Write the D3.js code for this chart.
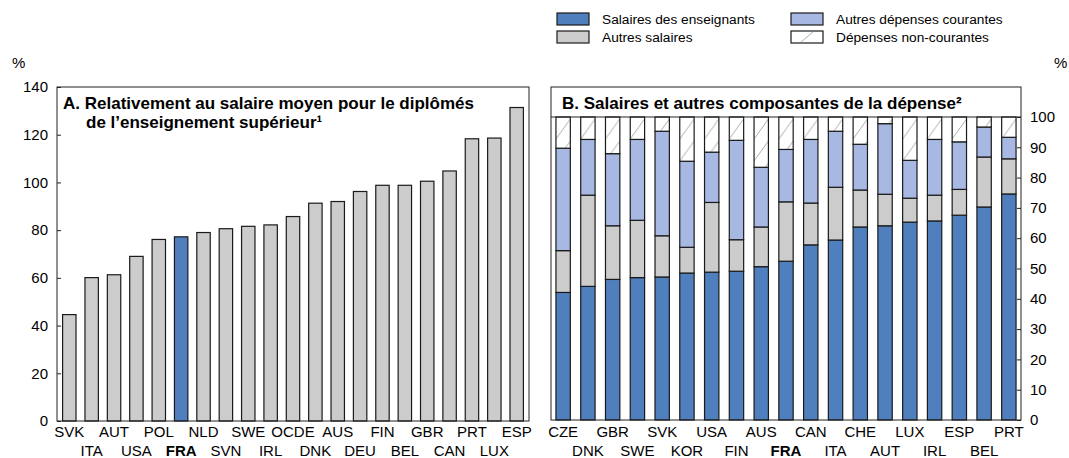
<!DOCTYPE html>
<html>
<head>
<meta charset="utf-8">
<script src="https://cdn.jsdelivr.net/npm/d3@7"></script>
<style>
    body { margin: 0; background: #fff; }
    svg { font-family: "Liberation Sans", Arial, sans-serif; }
</style>
</head>
<body>
<div id="chart"></div>
<script>
// Panel A: relative salary of teachers
const countriesA = ["SVK", "ITA", "AUT", "USA", "POL", "FRA", "NLD", "SVN", "SWE", "IRL", "OCDE",
    "DNK", "AUS", "DEU", "FIN", "BEL", "GBR", "CAN", "PRT", "LUX", "ESP"];
const valuesA = [44.6, 60.1, 61.3, 69.0, 76.1, 77.2, 79.0, 80.6, 81.6, 82.2, 85.7,
    91.3, 92.0, 96.2, 98.8, 98.8, 100.5, 104.8, 118.3, 118.6, 131.4];
const ticksA = [0, 20, 40, 60, 80, 100, 120, 140];

// Panel B: components of spending (shares, %)
const countriesB = ["CZE", "DNK", "GBR", "SWE", "SVK", "KOR", "USA", "FIN", "AUS", "FRA",
    "CAN", "ITA", "CHE", "AUT", "LUX", "IRL", "ESP", "BEL", "PRT"];
const teacherSal = [42.1, 44.1, 46.4, 47.0, 47.2, 48.5, 48.8, 49.1, 50.6, 52.4,
    57.8, 59.4, 63.7, 64.1, 65.3, 65.7, 67.6, 70.3, 74.6];
const otherSal = [13.8, 30.1, 17.7, 18.9, 13.6, 8.5, 23.0, 10.4, 13.1, 19.6,
    13.8, 17.4, 12.2, 10.4, 7.9, 8.5, 8.5, 16.5, 11.6];
const otherCurrent = [33.8, 18.4, 23.8, 26.7, 34.5, 28.4, 16.6, 32.8, 19.7, 17.3,
    21.0, 18.5, 15.1, 23.3, 12.5, 18.4, 15.7, 9.9, 7.1];
const nonCurrent = [10.3, 7.4, 12.1, 7.4, 4.7, 14.6, 11.6, 7.7, 16.6, 10.7,
    7.4, 4.7, 9.0, 2.2, 14.3, 7.4, 8.2, 3.3, 6.7];
const ticksB = [0, 10, 20, 30, 40, 50, 60, 70, 80, 90, 100];

const seriesKeys = ["teach", "other", "current", "noncur"];
const seriesLabels = ["Salaires des enseignants", "Autres salaires", "Autres dépenses courantes", "Dépenses non-courantes"];

(function () {
    const W = 1069, H = 458;
    const colors = {
        teach: "#4f7fbc",
        other: "#cccccc",
        current: "#a7b8e2",
        noncur: "url(#hatch)",
    };
    const stroke = "#1a1a1a";
    const fs = 15;
    const titleFs = 17;
    const rowY = [437, 456];

    const svg = d3.select("#chart").append("svg")
        .attr("width", W).attr("height", H);

    // ---------- Panel A ----------
    const a = { left: 57, right: 529, top: 87, bottom: 421 };
    a.x = d3.scaleBand().domain(countriesA).range([a.left, a.right]).paddingInner(0.4).paddingOuter(0.25);
    a.y = d3.scaleLinear().domain([0, 140]).range([a.bottom, a.top]);

    const gA = svg.append("g");
    gA.selectAll("rect.bar")
        .data(countriesA)
        .join("rect")
        .attr("class", "bar")
        .attr("x", d => a.x(d))
        .attr("width", a.x.bandwidth())
        .attr("y", (d, i) => a.y(valuesA[i]))
        .attr("height", (d, i) => a.y(0) - a.y(valuesA[i]))
        .attr("fill", d => d === "FRA" ? colors.teach : colors.other)
        .attr("stroke", stroke)
        .attr("stroke-width", 1.2);

    gA.append("rect")
        .attr("x", a.left).attr("y", a.top)
        .attr("width", a.right - a.left).attr("height", a.bottom - a.top)
        .attr("fill", "none").attr("stroke", "#222").attr("stroke-width", 1);

    const axisA = gA.append("g")
        .attr("transform", "translate(" + a.left + ",0)")
        .call(d3.axisRight(a.y).tickValues(ticksA).tickSize(4).tickFormat(""));
    axisA.select(".domain").remove();
    axisA.selectAll("line").attr("stroke", "#222");

    gA.selectAll("text.ytick")
        .data(ticksA)
        .join("text")
        .attr("class", "ytick")
        .attr("x", a.left - 9)
        .attr("y", d => a.y(d))
        .attr("dy", "0.35em")
        .attr("text-anchor", "end")
        .attr("font-size", fs)
        .text(d => d);

    gA.selectAll("text.xlab")
        .data(countriesA)
        .join("text")
        .attr("class", "xlab")
        .attr("x", d => a.x(d) + a.x.bandwidth() / 2)
        .attr("y", (d, i) => rowY[i % 2])
        .attr("text-anchor", "middle")
        .attr("font-size", fs)
        .attr("font-weight", d => d === "FRA" ? "bold" : "normal")
        .text(d => d);

    svg.append("text").attr("x", 12).attr("y", 68).attr("font-size", fs).text("%");

    const titleA = gA.append("text")
        .attr("font-size", titleFs).attr("font-weight", "bold");
    titleA.append("tspan").attr("x", 63).attr("y", 109)
        .text("A. Relativement au salaire moyen pour le diplômés");
    titleA.append("tspan").attr("x", 86).attr("y", 128)
        .text("de l’enseignement supérieur¹");

    // ---------- Panel B ----------
    const b = { left: 551, right: 1021, top: 117, bottom: 420, boxTop: 87 };
    b.x = d3.scaleBand().domain(countriesB).range([b.left, b.right]).paddingInner(0.42).paddingOuter(0.2);
    b.y = d3.scaleLinear().domain([0, 100]).range([b.bottom, b.top]);

    const defs = svg.append("defs");
    const hatch = defs.append("pattern")
        .attr("id", "hatch")
        .attr("patternUnits", "userSpaceOnUse")
        .attr("x", b.x(countriesB[0]))
        .attr("y", b.top)
        .attr("width", b.x.step())
        .attr("height", 22);
    hatch.append("rect").attr("width", b.x.step()).attr("height", 22).attr("fill", "#fff");
    hatch.append("line")
        .attr("x1", 0).attr("y1", 22)
        .attr("x2", b.x.bandwidth()).attr("y2", 2)
        .attr("stroke", "#999").attr("stroke-width", 0.8);

    const tableB = countriesB.map((c, i) => ({
        country: c,
        teach: teacherSal[i],
        other: otherSal[i],
        current: otherCurrent[i],
        noncur: nonCurrent[i],
    }));
    const stack = d3.stack().keys(seriesKeys)(tableB);

    const gB = svg.append("g");
    gB.selectAll("g.series")
        .data(stack)
        .join("g")
        .attr("class", "series")
        .attr("fill", s => colors[s.key])
        .selectAll("rect")
        .data(s => s)
        .join("rect")
        .attr("x", d => b.x(d.data.country))
        .attr("width", b.x.bandwidth())
        .attr("y", d => b.y(Math.min(100, d[1])))
        .attr("height", d => b.y(d[0]) - b.y(Math.min(100, d[1])))
        .attr("stroke", stroke)
        .attr("stroke-width", 1.2);

    gB.append("rect")
        .attr("x", b.left).attr("y", b.boxTop)
        .attr("width", b.right - b.left).attr("height", b.bottom - b.boxTop)
        .attr("fill", "none").attr("stroke", "#222").attr("stroke-width", 1);
    gB.append("line")
        .attr("x1", b.left).attr("x2", b.right)
        .attr("y1", b.top).attr("y2", b.top)
        .attr("stroke", "#222");

    const axisB = gB.append("g")
        .attr("transform", "translate(" + b.right + ",0)")
        .call(d3.axisLeft(b.y).tickValues(ticksB).tickSize(4).tickFormat(""));
    axisB.select(".domain").remove();
    axisB.selectAll("line").attr("stroke", "#222");

    gB.selectAll("text.ytick")
        .data(ticksB)
        .join("text")
        .attr("class", "ytick")
        .attr("x", b.right + 9)
        .attr("y", d => b.y(d))
        .attr("dy", "0.35em")
        .attr("font-size", fs)
        .text(d => d);

    gB.selectAll("text.xlab")
        .data(countriesB)
        .join("text")
        .attr("class", "xlab")
        .attr("x", d => b.x(d) + b.x.bandwidth() / 2)
        .attr("y", (d, i) => rowY[i % 2])
        .attr("text-anchor", "middle")
        .attr("font-size", fs)
        .attr("font-weight", d => d === "FRA" ? "bold" : "normal")
        .text(d => d);

    svg.append("text").attr("x", 1054).attr("y", 68).attr("font-size", fs).text("%");

    gB.append("text")
        .attr("x", 562).attr("y", 109)
        .attr("font-size", titleFs).attr("font-weight", "bold")
        .text("B. Salaires et autres composantes de la dépense²");

    // ---------- Legend ----------
    const legPos = [
        { x: 557, y: 13 }, { x: 557, y: 31 },
        { x: 791, y: 13 }, { x: 791, y: 31 },
    ];
    const leg = svg.append("g").selectAll("g")
        .data(seriesKeys)
        .join("g")
        .attr("transform", (d, i) => "translate(" + legPos[i].x + "," + legPos[i].y + ")");
    leg.append("rect")
        .attr("width", 32).attr("height", 12)
        .attr("fill", d => d === "noncur" ? "#fff" : colors[d])
        .attr("stroke", stroke).attr("stroke-width", 1.2);
    leg.filter(d => d === "noncur").append("line")
        .attr("x1", 10).attr("y1", 11).attr("x2", 22).attr("y2", 1)
        .attr("stroke", "#999").attr("stroke-width", 0.8);
    leg.append("text")
        .attr("x", 45).attr("y", 6)
        .attr("dy", "0.35em")
        .attr("font-size", 13.7)
        .text((d, i) => seriesLabels[i]);
})();
</script>
</body>
</html>
